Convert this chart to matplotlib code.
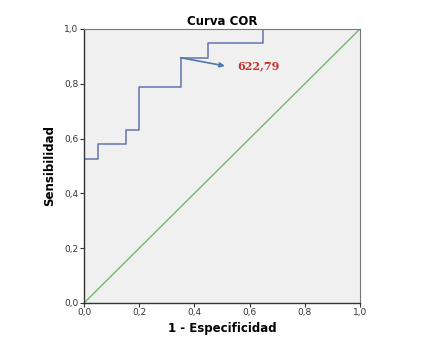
import numpy as np
import matplotlib
matplotlib.use("Agg")
import matplotlib.pyplot as plt

# ROC curve (1 - especificidad, sensibilidad) as step points
fpr = [0.0, 0.0, 0.05, 0.05, 0.15, 0.15, 0.20, 0.20, 0.35, 0.35, 0.45, 0.45, 0.65, 0.65, 1.0]
tpr = [0.0, 0.526, 0.526, 0.579, 0.579, 0.632, 0.632, 0.789, 0.789, 0.895, 0.895, 0.947, 0.947, 1.0, 1.0]
ref_line = [0.0, 1.0]
ticks = [0.0, 0.2, 0.4, 0.6, 0.8, 1.0]
tick_labels = ["0,0", "0,2", "0,4", "0,6", "0,8", "1,0"]
cut_label = "622,79"
cut_point = (0.35, 0.895)
label_pos = (0.51, 0.865)

fig = plt.figure(figsize=(4.25, 3.53), dpi=100)
ax = fig.add_axes([0.198, 0.142, 0.649, 0.776])
ax.set_facecolor("#f0f0f0")

ax.plot(ref_line, ref_line, color="#6dbb6d", lw=1.0)
ax.plot(fpr, tpr, color="#6674b0", lw=1.1)

ax.annotate("", xy=label_pos, xytext=cut_point,
            arrowprops=dict(arrowstyle="-|>", color="#4f79a8", lw=1.2,
                            mutation_scale=7, shrinkA=0, shrinkB=0))
ax.text(label_pos[0] + 0.045, label_pos[1], cut_label, color="#c8302c",
        fontsize=8, fontweight="bold", family="DejaVu Serif",
        ha="left", va="center")

ax.set_xlim(0, 1)
ax.set_ylim(0, 1)
ax.set_xticks(ticks)
ax.set_xticklabels(tick_labels)
ax.set_yticks(ticks)
ax.set_yticklabels(tick_labels)
ax.tick_params(labelsize=6.5, length=3, width=0.8, color="#333333",
               labelcolor="#333333", pad=1)

for side in ["left", "bottom"]:
    ax.spines[side].set_color("#333333")
    ax.spines[side].set_linewidth(1.0)
for side in ["top", "right"]:
    ax.spines[side].set_color("#777777")
    ax.spines[side].set_linewidth(0.8)

ax.set_title("Curva COR", fontsize=8.5, fontweight="bold", pad=3)
ax.set_xlabel("1 - Especificidad", fontsize=8.5, fontweight="bold", labelpad=3)
ax.set_ylabel("Sensibilidad", fontsize=8.5, fontweight="bold", labelpad=6)

fig.savefig("out.png", dpi=100)
